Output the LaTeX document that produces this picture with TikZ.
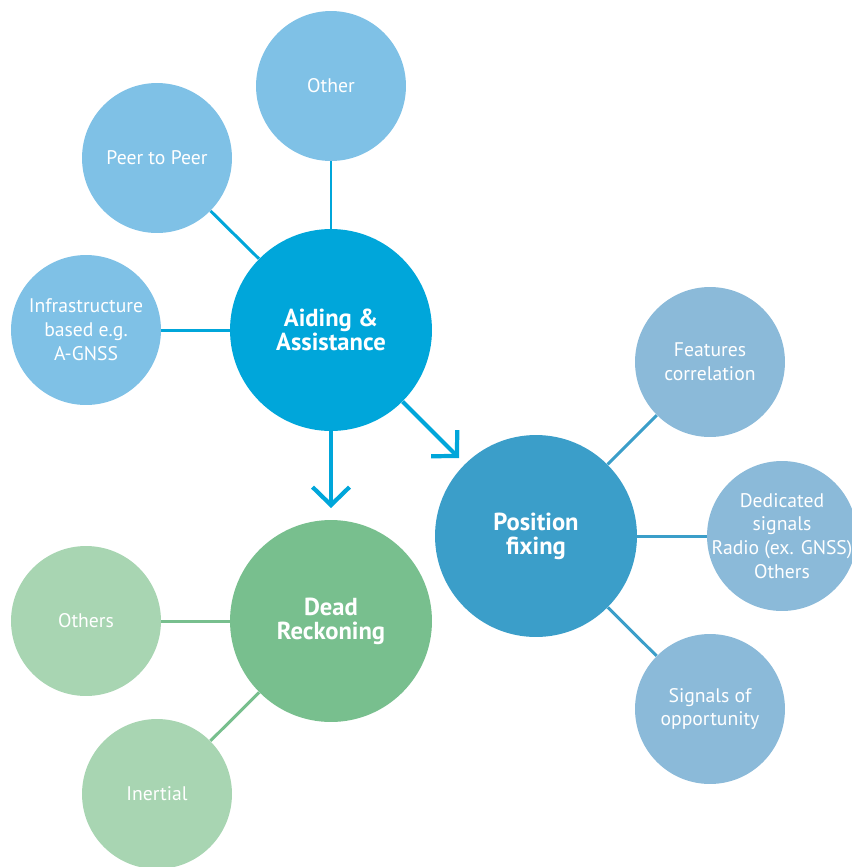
\documentclass[tikz,border=0pt]{standalone}
\usepackage{fontspec}
\setmainfont{PT Sans}
\usetikzlibrary{arrows.meta}

\definecolor{aidblue}{RGB}{0,166,218}
\definecolor{aidlight}{RGB}{127,193,230}
\definecolor{posblue}{RGB}{59,158,201}
\definecolor{poslight}{RGB}{139,186,217}
\definecolor{drgreen}{RGB}{120,191,142}
\definecolor{drlight}{RGB}{168,213,178}

\begin{document}
\begin{tikzpicture}[x=0.02cm,y=-0.02cm,
    big/.style={circle,inner sep=-10pt,minimum size=4.04cm,text=white,align=center,
        font=\bfseries\fontsize{14}{13.8}\selectfont},
    small/.style={circle,inner sep=-10pt,minimum size=3cm,text=white,align=center,
        font=\fontsize{11.2}{13.6}\selectfont},
    link/.style={line width=1.7pt},
    flow/.style={line width=2.4pt,aidblue,-{Straight Barb[length=0.36cm,width=0.74cm,line width=2.4pt]}}]
\useasboundingbox (0,0) rectangle (852,867);

% Aiding & Assistance
\node[big,fill=aidblue] (aid) at (331,330) {Aiding \&\\Assistance};
\node[small,fill=aidlight] (other) at (331,86) {Other};
\node[small,fill=aidlight] (peer) at (157,158) {Peer to Peer};
\node[small,fill=aidlight] (infra) at (86,330) {Infrastructure\\based e.g.\\A-GNSS};
\foreach \n in {other,peer,infra} {
    \draw[link,aidblue] (aid) -- (\n);
}

% Dead Reckoning
\node[big,fill=drgreen] (dr) at (331,621) {Dead\\Reckoning};
\node[small,fill=drlight] (others) at (86,621) {Others};
\node[small,fill=drlight] (inertial) at (157,794) {Inertial};
\foreach \n in {others,inertial} {
    \draw[link,drgreen] (dr) -- (\n);
}

% Position fixing
\node[big,fill=posblue] (pos) at (536,536) {Position\\fixing};
\node[small,fill=poslight] (feat) at (710,362) {Features\\correlation};
\node[small,fill=poslight] (ded) at (782,536) {Dedicated\\signals\\Radio (ex. GNSS)\\Others};
\node[small,fill=poslight] (sig) at (710,709) {Signals of\\opportunity};
\foreach \n in {feat,ded,sig} {
    \draw[link,posblue] (pos) -- (\n);
}

% Arrows
\coordinate (drtip) at (331,508);
\coordinate (postip) at (459,458);
\draw[flow] (aid.south) -- (drtip);
\draw[flow] (aid.-45) -- (postip);

\end{tikzpicture}
\end{document}
